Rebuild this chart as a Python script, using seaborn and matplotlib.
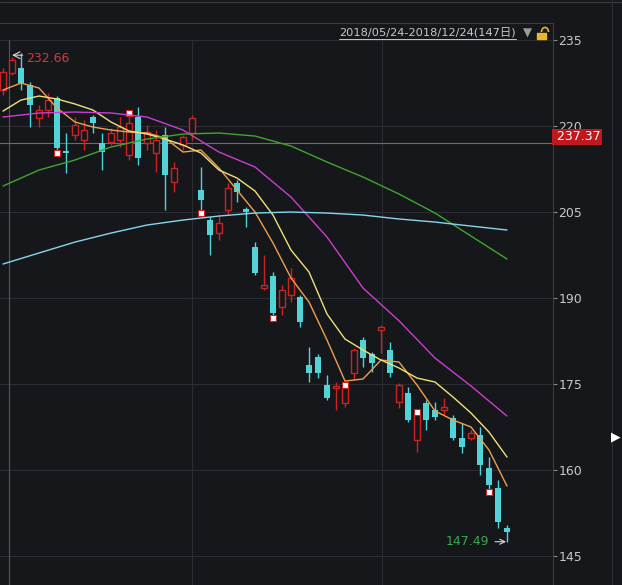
import numpy as np
import pandas as pd
import seaborn as sns
import matplotlib
matplotlib.use('Agg')
import matplotlib.pyplot as plt
from matplotlib.patches import Rectangle, Arc
from matplotlib.lines import Line2D

# visible daily candles
opens = [226.28, 229.24, 230.12, 227.15, 221.39, 222.79, 224.88, 215.64, 218.43, 217.56,
         221.57, 217.03, 217.21, 217.56, 214.94, 221.57, 217.03, 215.29, 218.43, 210.23,
         216.69, 218.78, 208.83, 203.60, 201.33, 205.35, 210.06, 205.52, 198.89, 191.74,
         193.83, 188.43, 190.52, 190.17, 178.31, 179.71, 174.82, 174.30, 171.68, 176.91,
         182.67, 180.23, 184.41, 180.93, 171.86, 173.43, 165.23, 171.68, 170.46, 170.46,
         169.07, 165.58, 165.58, 166.10, 160.34, 156.86, 149.88]
highs = [230.12, 232.03, 232.66, 227.67, 223.66, 225.75, 225.23, 218.78, 221.57, 221.05,
         221.92, 218.78, 219.65, 221.57, 222.27, 223.31, 220.17, 219.30, 219.82, 213.72,
         218.43, 221.92, 212.85, 204.13, 204.47, 210.06, 210.58, 205.87, 199.77, 197.50,
         194.53, 192.26, 195.23, 190.52, 181.45, 180.23, 176.57, 175.35, 174.82, 181.28,
         183.19, 180.58, 185.29, 182.32, 175.17, 174.47, 170.11, 172.21, 171.86, 172.55,
         169.59, 168.19, 166.97, 167.50, 162.26, 158.25, 150.40]
lows = [225.41, 228.90, 226.28, 219.82, 219.82, 221.57, 215.29, 211.80, 217.56, 215.81,
        218.78, 212.32, 216.69, 216.34, 214.07, 213.20, 215.81, 211.98, 205.35, 208.49,
        215.81, 217.56, 204.82, 197.50, 200.11, 204.47, 206.74, 202.38, 194.01, 191.39,
        186.51, 187.03, 189.30, 184.94, 175.35, 176.04, 172.21, 170.46, 170.98, 175.69,
        177.96, 177.09, 180.40, 176.22, 170.81, 168.37, 163.14, 166.97, 168.72, 169.59,
        165.23, 162.96, 165.23, 159.12, 156.16, 149.88, 147.49]
closes = [229.42, 231.51, 227.50, 223.66, 222.79, 224.53, 216.16, 215.29, 220.17, 219.30,
          220.52, 215.46, 218.78, 219.82, 220.52, 214.42, 218.95, 217.56, 211.45, 212.67,
          218.08, 221.39, 207.09, 200.99, 203.08, 209.18, 208.49, 205.00, 194.36, 192.26,
          187.38, 191.39, 193.49, 185.81, 176.91, 176.91, 172.55, 174.65, 174.30, 180.93,
          179.53, 178.66, 184.94, 176.91, 174.82, 168.72, 169.76, 168.72, 169.24, 170.98,
          165.58, 164.01, 166.45, 160.87, 157.38, 150.93, 149.18]

# moving averages, read every 2nd / 4th candle
fine_idx = list(range(0, 57, 2))
ma5 = [226.28, 227.50, 226.63, 223.14, 220.70, 219.82, 219.30, 218.95, 218.78, 217.91,
       215.46, 215.81, 212.67, 208.83, 205.00, 199.59, 193.49, 189.30, 182.67, 175.52,
       175.87, 179.18, 178.83, 174.82, 170.29, 168.72, 167.50, 163.48, 157.20]
ma10 = [222.61, 224.53, 225.23, 224.71, 223.84, 222.79, 220.70, 219.13, 218.60, 217.73,
        216.69, 215.29, 212.32, 210.93, 208.66, 204.47, 198.37, 194.53, 187.21, 182.84,
        180.93, 179.18, 177.79, 176.04, 175.35, 172.73, 169.94, 166.62, 162.26]
coarse_idx = list(range(0, 57, 4))
ma20 = [221.57, 222.27, 222.44, 222.27, 221.57, 219.30, 215.46, 212.85, 207.61, 200.64,
        191.74, 186.03, 179.53, 174.65, 169.41]
ma30 = [209.53, 212.32, 214.07, 216.34, 217.73, 218.60, 218.78, 218.25, 216.51, 213.72,
        211.10, 208.14, 204.82, 200.81, 196.80]
ma60 = [195.93, 197.85, 199.76, 201.33, 202.73, 203.60, 204.30, 204.82, 205.00, 204.82,
        204.47, 203.78, 203.25, 202.55, 201.86]

y_ticks = [145, 160, 175, 190, 205, 220, 235]
high_label = '232.66'
low_label = '147.49'
cursor_label = '237.37'
cursor_price = 217.03
date_range = '2018/05/24-2018/12/24(147日)'
flag_idx = [6, 14, 22, 30, 38, 46, 54]

BG = '#16171b'
RED = '#cc2222'
CYAN = '#52d3d8'
GRID = '#2a2c31'
TXT = '#c8c8c8'

sns.set_theme(style='dark', rc={'axes.facecolor': BG, 'figure.facecolor': BG})
plt.rcParams['font.family'] = ['DejaVu Sans', 'Noto Sans CJK SC']

W, H = 622, 585
fig = plt.figure(figsize=(W / 100, H / 100), dpi=100)
ax = fig.add_axes([0, 0, 553 / W, 562 / H])
ax.set_facecolor(BG)

ax.set_xlim(-1 / 3, 550 / 9)
ax.set_ylim(139.94, 237.97)

# grid
for t in y_ticks:
    ax.axhline(t, color=GRID, lw=0.8, zorder=0)
ax.vlines([21, 42.1], 139.94, 235, color=GRID, lw=0.8, zorder=0)
ax.vlines([0.67], 139.94, 235, color='#55575c', lw=0.8, zorder=0)
ax.axhline(cursor_price, color='#6a6c70', lw=0.8, zorder=1)

# candles
o = np.array(opens); c = np.array(closes)
hi = np.array(highs); lo = np.array(lows)
x = np.arange(len(o))
up = c >= o
bw = 0.66
ax.vlines(x[up], lo[up], hi[up], color=RED, lw=1, zorder=2)
ax.vlines(x[~up], lo[~up], hi[~up], color=CYAN, lw=1, zorder=2)
bottom = np.minimum(o, c)
height = np.maximum(np.abs(c - o), 0.3)
ax.bar(x[up], height[up], bottom=bottom[up], width=bw, facecolor=BG,
       edgecolor=RED, linewidth=1, zorder=3)
ax.bar(x[~up], height[~up], bottom=bottom[~up], width=bw, color=CYAN,
       linewidth=0, zorder=3)

# small flag marks
for i in flag_idx:
    yv = hi[i] if up[i] else lo[i]
    ax.scatter([i], [yv], marker='s', s=18, color='white', edgecolor=RED,
               linewidth=0.8, zorder=4)

# moving averages
frames = [
    pd.DataFrame({'idx': fine_idx, 'val': ma5, 'ma': 'MA5'}),
    pd.DataFrame({'idx': fine_idx, 'val': ma10, 'ma': 'MA10'}),
    pd.DataFrame({'idx': coarse_idx, 'val': ma20, 'ma': 'MA20'}),
    pd.DataFrame({'idx': coarse_idx, 'val': ma30, 'ma': 'MA30'}),
    pd.DataFrame({'idx': coarse_idx, 'val': ma60, 'ma': 'MA60'}),
]
ma_df = pd.concat(frames, ignore_index=True)
palette = {'MA5': '#eda050', 'MA10': '#eee277', 'MA20': '#c83fd0',
           'MA30': '#3fa52e', 'MA60': '#86d6ec'}
sns.lineplot(data=ma_df, x='idx', y='val', hue='ma', palette=palette,
             legend=False, lw=1, ax=ax, zorder=5, sort=True)

# high / low labels
i_hi = int(np.argmax(hi))
ax.annotate('', xy=(i_hi - 1.3, hi[i_hi] - 0.3), xytext=(i_hi + 0.5, hi[i_hi] - 0.3),
            arrowprops=dict(arrowstyle='->', color='#d8d8d8', lw=0.8), zorder=6)
ax.text(i_hi + 0.6, hi[i_hi] + 0.2, high_label, color='#d43a3a', fontsize=9,
        va='top', ha='left', zorder=6)
i_lo = int(np.argmin(lo))
ax.annotate(low_label, xy=(i_lo + 0.2, lo[i_lo]), xytext=(i_lo - 2.0, lo[i_lo]),
            color='#3aa84e', fontsize=9, va='center', ha='right',
            arrowprops=dict(arrowstyle='->', color='#d8d8d8', lw=0.8), zorder=6)

# right axis
ax.yaxis.tick_right()
ax.set_yticks(y_ticks)
ax.set_yticklabels([str(t) for t in y_ticks])
ax.tick_params(axis='y', colors='#8a8a8a', labelcolor=TXT, labelsize=9,
               length=3, width=0.8, pad=1)
ax.tick_params(axis='x', bottom=False, labelbottom=False)
ax.set_xlabel('')
ax.set_ylabel('')
for s in ['left', 'bottom', 'top']:
    ax.spines[s].set_visible(False)
ax.spines['right'].set_color('#3a3c40')
ax.spines['right'].set_linewidth(0.8)

# cursor price box (covers most of the 220 label, as in the terminal)
ax.text(1.0, cursor_price, ' ' + cursor_label, transform=ax.get_yaxis_transform(),
        color='white', fontsize=9, va='bottom', ha='left', zorder=10,
        bbox=dict(boxstyle='square,pad=0.12', fc='#c0181c', ec='none'))

# frame lines of the window
def fy(py):
    return 1 - py / H

fig.add_artist(Line2D([0, 1], [fy(2), fy(2)], color='#3a3c40', lw=0.8))
fig.add_artist(Line2D([0, 553 / W], [fy(23), fy(23)], color='#3a3c40', lw=0.8))
fig.add_artist(Line2D([612 / W, 612 / W], [0, 1], color='#2c2e33', lw=0.8))

# date range header
fig.text(339 / W, fy(33), date_range, color=TXT, fontsize=8.2, va='center', ha='left')
fig.add_artist(Line2D([339 / W, 516 / W], [fy(39), fy(39)], color=TXT, lw=0.7))
fig.text(527 / W, fy(33), '▼', color='#9a9a9a', fontsize=8.5, va='center', ha='center')
fig.add_artist(Rectangle((537 / W, fy(39)), 9 / W, 6 / H, color='#e8b62c'))
fig.add_artist(Arc((545 / W, fy(32)), 7 / W, 9 / H, theta1=0, theta2=180,
                   color='#e8b62c', lw=1.2))
fig.text(616 / W, fy(437), '▶', color='white', fontsize=9, va='center', ha='center')

fig.savefig('out.png', dpi=100, facecolor=BG)
